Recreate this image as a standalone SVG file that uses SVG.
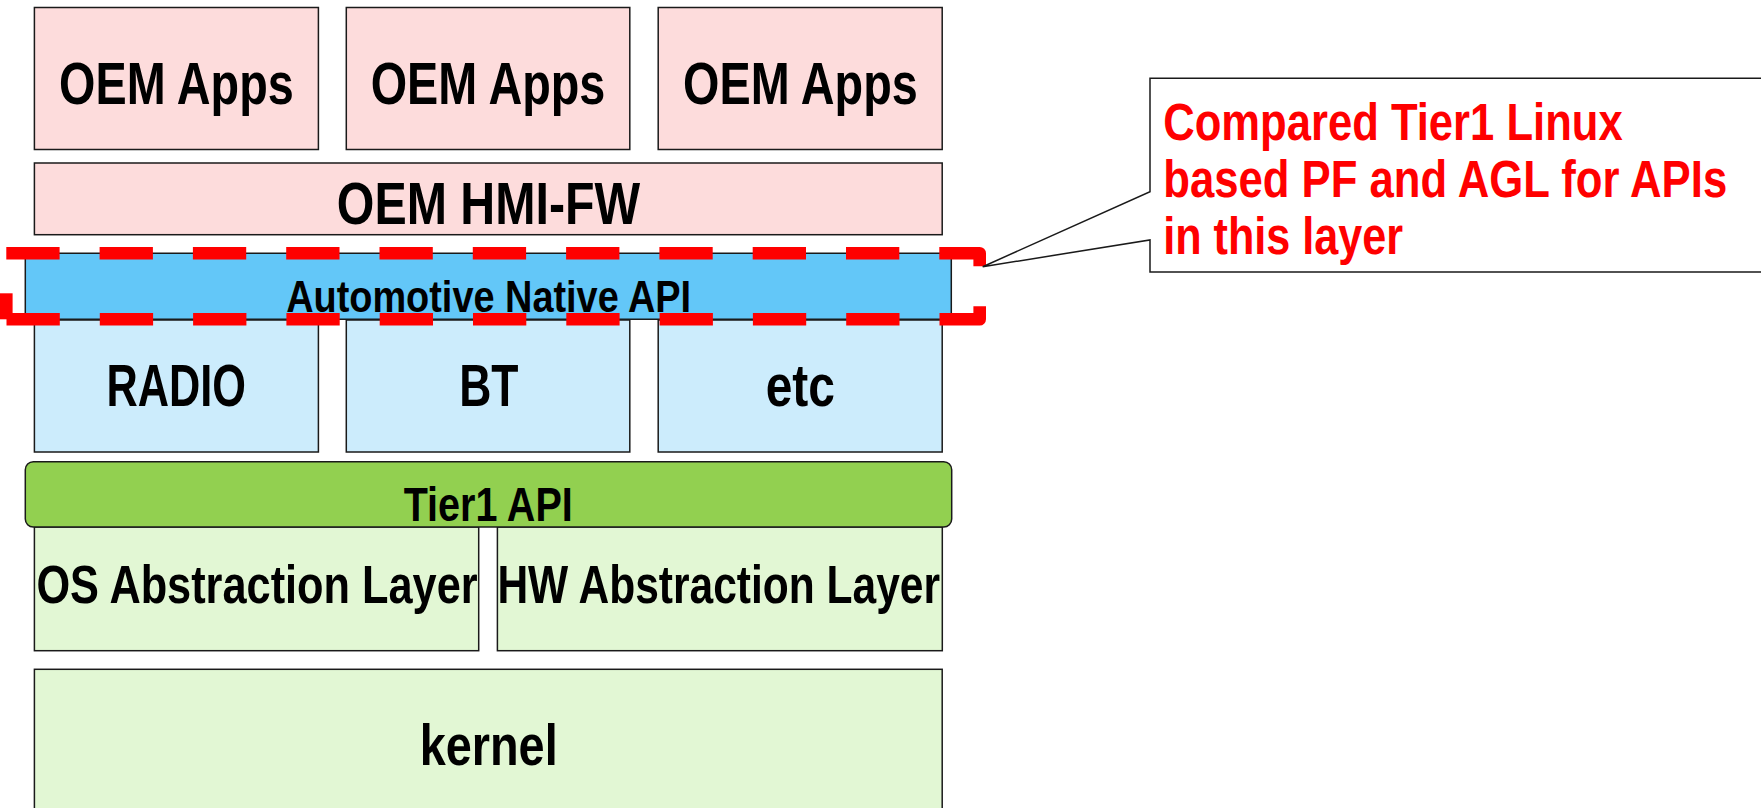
<svg xmlns="http://www.w3.org/2000/svg" width="1761" height="808" viewBox="0 0 1761 808">
<style>
  .box{stroke:#1a1a1a;stroke-width:1.5}
  .pink{fill:#FDDCDC}
  .lblue{fill:#CCECFC}
  .blue{fill:#63C7F8}
  .green{fill:#92D050}
  .lgreen{fill:#E2F7D4}
  .t{font-family:"Liberation Sans",Arial,sans-serif;font-weight:bold;fill:#000;text-anchor:middle}
  .r{font-family:"Liberation Sans",Arial,sans-serif;font-weight:bold;fill:#FF0000;font-size:51px}
  .dash{fill:none;stroke:#FF0000;stroke-width:12.6}
</style>
<rect width="1761" height="808" fill="#fff"/>

<g id="oem-apps-1">
  <rect class="box pink" x="34.4" y="7.5" width="284" height="142"/>
  <text class="t" x="176.4" y="104.3" font-size="60" textLength="234.6" lengthAdjust="spacingAndGlyphs">OEM Apps</text>
</g>
<g id="oem-apps-2">
  <rect class="box pink" x="346.3" y="7.5" width="283.5" height="142"/>
  <text class="t" x="488" y="104.3" font-size="60" textLength="234.6" lengthAdjust="spacingAndGlyphs">OEM Apps</text>
</g>
<g id="oem-apps-3">
  <rect class="box pink" x="658.2" y="7.5" width="284" height="142"/>
  <text class="t" x="800.4" y="104.3" font-size="60" textLength="234.6" lengthAdjust="spacingAndGlyphs">OEM Apps</text>
</g>
<g id="oem-hmi-fw">
  <rect class="box pink" x="34.4" y="163" width="907.8" height="71.7"/>
  <text class="t" x="488.5" y="224" font-size="59" textLength="303.4" lengthAdjust="spacingAndGlyphs">OEM HMI-FW</text>
</g>

<g id="radio">
  <rect class="box lblue" x="34.4" y="320" width="284" height="132"/>
  <text class="t" x="176.2" y="406" font-size="60" textLength="139.6" lengthAdjust="spacingAndGlyphs">RADIO</text>
</g>
<g id="bt">
  <rect class="box lblue" x="346.3" y="320" width="283.5" height="132"/>
  <text class="t" x="488.8" y="406" font-size="60" textLength="59.3" lengthAdjust="spacingAndGlyphs">BT</text>
</g>
<g id="etc">
  <rect class="box lblue" x="658.2" y="320" width="284" height="132"/>
  <text class="t" x="800.3" y="406" font-size="60" textLength="69.3" lengthAdjust="spacingAndGlyphs">etc</text>
</g>

<g id="automotive-native-api">
  <rect class="box blue" x="25.3" y="253.3" width="926" height="66" rx="5"/>
  <text class="t" x="488.6" y="311.7" font-size="45" textLength="404.9" lengthAdjust="spacingAndGlyphs">Automotive Native API</text>
</g>

<g id="os-abstraction">
  <rect class="box lgreen" x="34.4" y="527" width="444.3" height="123.7"/>
  <text class="t" x="257" y="603.3" font-size="54.5" textLength="441.2" lengthAdjust="spacingAndGlyphs">OS Abstraction Layer</text>
</g>
<g id="hw-abstraction">
  <rect class="box lgreen" x="497.4" y="527" width="444.9" height="123.7"/>
  <text class="t" x="718.7" y="603.3" font-size="54.5" textLength="442.6" lengthAdjust="spacingAndGlyphs">HW Abstraction Layer</text>
</g>
<g id="tier1-api">
  <rect class="box green" x="25.3" y="461.7" width="926.4" height="65.3" rx="8"/>
  <text class="t" x="488.2" y="520.7" font-size="47.5" textLength="169.1" lengthAdjust="spacingAndGlyphs">Tier1 API</text>
</g>
<g id="kernel">
  <rect class="box lgreen" x="34.4" y="669.3" width="907.8" height="160"/>
  <text class="t" x="488.7" y="765" font-size="58" textLength="138" lengthAdjust="spacingAndGlyphs">kernel</text>
</g>

<g id="highlight">
  <path class="dash" d="M6.3,253.3 H979.7 V319.3 H6.3" stroke-dasharray="53.3 40" stroke-linejoin="round"/>
  <path class="dash" d="M6.3,313 V299.6" stroke-linecap="square"/>
</g>

<g id="connectors">
  <path d="M1150,78.3 H1775 V272 H1150 V240 L982.7,266.7 L1150,191.7 Z" fill="#fff" stroke="#1a1a1a" stroke-width="1.5"/>
</g>

<g id="callout">
  <text class="r" x="1163.2" y="140" textLength="459.5" lengthAdjust="spacingAndGlyphs">Compared Tier1 Linux</text>
  <text class="r" x="1163.2" y="196.7" textLength="564" lengthAdjust="spacingAndGlyphs">based PF and AGL for APIs</text>
  <text class="r" x="1163.2" y="254" textLength="240" lengthAdjust="spacingAndGlyphs">in this layer</text>
</g>
</svg>
